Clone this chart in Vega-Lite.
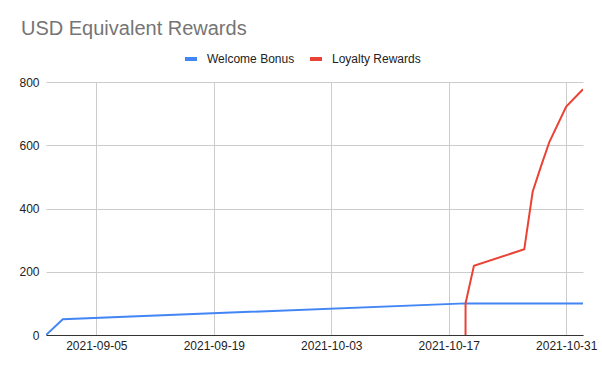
{
  "$schema": "https://vega.github.io/schema/vega-lite/v6.json",
  "width": 537,
  "height": 253,
  "autosize": {"type": "none"},
  "padding": {"left": 46, "top": 82, "right": 19, "bottom": 38},
  "background": "white",
  "title": {
    "text": "USD Equivalent Rewards",
    "anchor": "start",
    "frame": "group",
    "orient": "top",
    "dx": -25,
    "offset": -4,
    "baseline": "alphabetic",
    "font": "Liberation Sans",
    "fontSize": 20,
    "fontWeight": "normal",
    "color": "#757575"
  },
  "config": {
    "view": {"stroke": null},
    "font": "Liberation Sans"
  },
  "data": {
    "values": [
      {"date": "2021-08-30T00:00:00Z", "series": "Welcome Bonus", "usd": 0},
      {"date": "2021-09-01T00:00:00Z", "series": "Welcome Bonus", "usd": 50},
      {"date": "2021-10-19T00:00:00Z", "series": "Welcome Bonus", "usd": 100},
      {"date": "2021-10-31T00:00:00Z", "series": "Welcome Bonus", "usd": 100},
      {"date": "2021-11-02T00:00:00Z", "series": "Welcome Bonus", "usd": 100},
      {"date": "2021-10-19T00:00:00Z", "series": "Loyalty Rewards", "usd": 0},
      {"date": "2021-10-19T00:05:00Z", "series": "Loyalty Rewards", "usd": 100},
      {"date": "2021-10-20T00:00:00Z", "series": "Loyalty Rewards", "usd": 219},
      {"date": "2021-10-26T00:00:00Z", "series": "Loyalty Rewards", "usd": 271},
      {"date": "2021-10-27T00:00:00Z", "series": "Loyalty Rewards", "usd": 453},
      {"date": "2021-10-28T00:00:00Z", "series": "Loyalty Rewards", "usd": 534},
      {"date": "2021-10-29T00:00:00Z", "series": "Loyalty Rewards", "usd": 611},
      {"date": "2021-10-31T00:00:00Z", "series": "Loyalty Rewards", "usd": 722},
      {"date": "2021-11-02T00:00:00Z", "series": "Loyalty Rewards", "usd": 777}
    ]
  },
  "mark": {"type": "line", "strokeWidth": 2, "clip": true},
  "encoding": {
    "x": {
      "field": "date",
      "type": "temporal",
      "scale": {
        "type": "utc",
        "domain": [
          {"year": 2021, "month": 8, "date": 30, "utc": true},
          {"year": 2021, "month": 11, "date": 2, "utc": true}
        ]
      },
      "axis": {
        "title": null,
        "format": "%Y-%m-%d",
        "values": [
          {"year": 2021, "month": 9, "date": 5, "utc": true},
          {"year": 2021, "month": 9, "date": 19, "utc": true},
          {"year": 2021, "month": 10, "date": 3, "utc": true},
          {"year": 2021, "month": 10, "date": 17, "utc": true},
          {"year": 2021, "month": 10, "date": 31, "utc": true}
        ],
        "grid": true,
        "gridColor": "#cccccc",
        "gridWidth": 1,
        "ticks": false,
        "domain": true,
        "domainColor": "#333333",
        "domainWidth": 1,
        "labelFont": "Liberation Sans",
        "labelFontSize": 12,
        "labelColor": "#222222",
        "labelPadding": 5,
        "labelAngle": 0,
        "labelOverlap": false,
        "labelFlush": false,
        "zindex": 0
      }
    },
    "y": {
      "field": "usd",
      "type": "quantitative",
      "scale": {"domain": [0, 800], "nice": false},
      "axis": {
        "title": null,
        "values": [0, 200, 400, 600, 800],
        "grid": true,
        "gridColor": "#cccccc",
        "ticks": false,
        "domain": false,
        "labelFont": "Liberation Sans",
        "labelFontSize": 12,
        "labelColor": "#222222",
        "labelPadding": 7
      }
    },
    "color": {
      "field": "series",
      "type": "nominal",
      "sort": ["Welcome Bonus", "Loyalty Rewards"],
      "scale": {
        "domain": ["Welcome Bonus", "Loyalty Rewards"],
        "range": ["#4285F4", "#EA4335"]
      },
      "legend": {
        "title": null,
        "orient": "none",
        "direction": "horizontal",
        "legendX": 137,
        "legendY": -31,
        "symbolType": "stroke",
        "symbolStrokeWidth": 4,
        "symbolSize": 144,
        "labelFont": "Liberation Sans",
        "labelFontSize": 12,
        "labelColor": "#222222",
        "labelOffset": 8,
        "columnPadding": 7,
        "padding": 0
      }
    }
  }
}
